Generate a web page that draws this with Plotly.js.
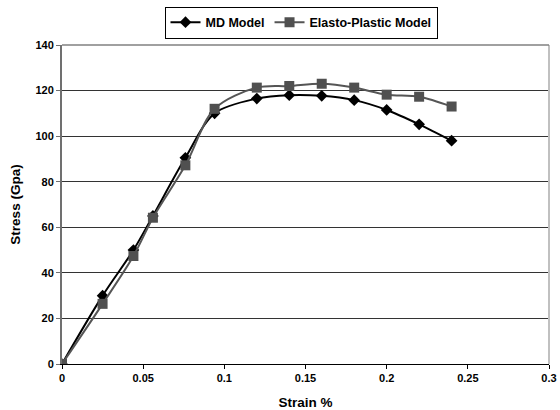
<!DOCTYPE html>
<html>
<head>
<meta charset="utf-8">
<script src="https://cdn.plot.ly/plotly-3.0.1.min.js"></script>
<style>html,body{margin:0;padding:0;background:#fff;}#chart{width:560px;height:410px;}</style>
</head>
<body>
<div id="chart"></div>
<script>
const strain = [0, 0.025, 0.044, 0.056, 0.076, 0.094, 0.12, 0.14, 0.16, 0.18, 0.2, 0.22, 0.24];
const mdStress = [0, 30, 50, 65, 90.5, 110, 116.5, 118, 117.7, 115.8, 111.5, 105.2, 98];
const epStress = [0, 26.4, 47.4, 64.2, 87.2, 112, 121.3, 122, 123, 121.3, 118.2, 117.3, 113];
const seriesNames = ["MD Model", "Elasto-Plastic Model"];
const xTicks = [0, 0.05, 0.1, 0.15, 0.2, 0.25, 0.3];
const xTickText = ["0", "0.05", "0.1", "0.15", "0.2", "0.25", "0.3"];
const yTicks = [0, 20, 40, 60, 80, 100, 120, 140];

const font = "Liberation Sans, Arial, sans-serif";
const traces = [
  {
    x: strain, y: mdStress, name: seriesNames[0], type: "scatter", mode: "lines+markers",
    line: {color: "#000000", width: 2, shape: "spline", smoothing: 0.9},
    marker: {symbol: "diamond", size: 9, color: "#000000"}
  },
  {
    x: strain, y: epStress, name: seriesNames[1], type: "scatter", mode: "lines+markers",
    line: {color: "#555555", width: 2, shape: "spline", smoothing: 0.9},
    marker: {symbol: "square", size: 10, color: "#505050"}
  }
];

const layout = {
  width: 560, height: 410,
  margin: {l: 62, r: 11, t: 45, b: 46},
  paper_bgcolor: "#ffffff", plot_bgcolor: "#ffffff",
  font: {family: font, size: 11, color: "#000"},
  showlegend: true,
  legend: {
    orientation: "h", xref: "container", yref: "container",
    x: 0.5375, xanchor: "center", y: 0.984, yanchor: "top",
    bordercolor: "#000", borderwidth: 1, bgcolor: "#fff",
    font: {family: font, size: 12.5, color: "#000", weight: "bold"},
    itemwidth: 30, tracegroupgap: 0
  },
  xaxis: {
    range: [0, 0.3], tickvals: xTicks, ticktext: xTickText,
    showgrid: false, zeroline: false,
    showline: true, linecolor: "#000", linewidth: 1,
    ticks: "outside", ticklen: 4, tickcolor: "#000",
    tickfont: {family: font, size: 11, color: "#000", weight: "bold"},
    title: {text: "Strain %", font: {family: font, size: 13.5, color: "#000", weight: "bold"}, standoff: 14}
  },
  yaxis: {
    range: [0, 140], tickvals: yTicks,
    showgrid: true, gridcolor: "#333333", gridwidth: 1,
    zeroline: false,
    showline: true, linecolor: "#707070", linewidth: 2,
    ticks: "outside", ticklen: 4, tickcolor: "#707070",
    tickfont: {family: font, size: 11, color: "#000", weight: "bold"},
    title: {text: "Stress (Gpa)", font: {family: font, size: 13.5, color: "#000", weight: "bold"}, standoff: 12}
  },
  shapes: [
    {type: "line", xref: "paper", yref: "paper", x0: 1, x1: 1, y0: 0, y1: 1,
     line: {color: "#c0c0c0", width: 2}},
    {type: "line", xref: "paper", yref: "paper", x0: 0, x1: 1, y0: 1, y1: 1,
     line: {color: "#808080", width: 1.5}}
  ]
};

Plotly.newPlot("chart", traces, layout, {displayModeBar: false, staticPlot: true});
</script>
</body>
</html>
